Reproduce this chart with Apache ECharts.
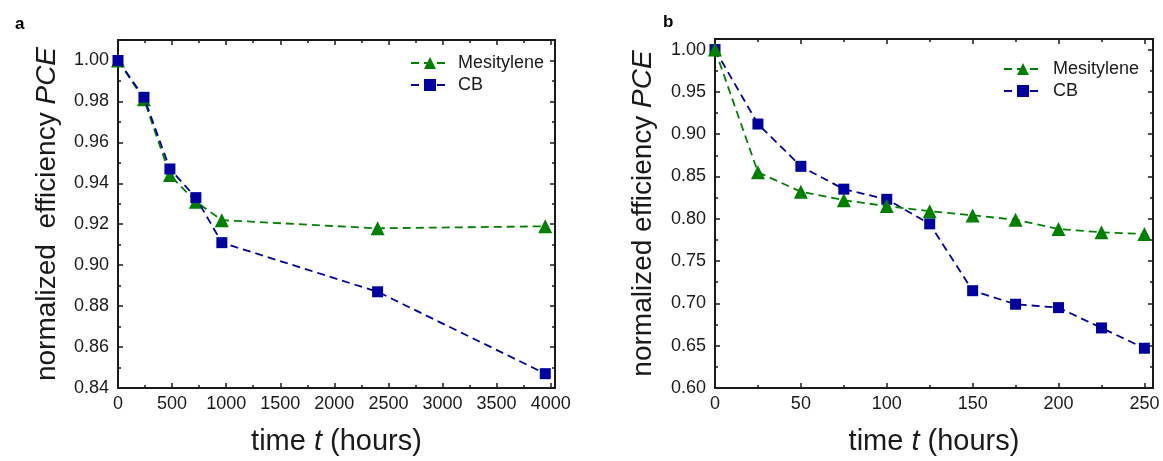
<!DOCTYPE html>
<html><head><meta charset="utf-8">
<script src="https://cdn.jsdelivr.net/npm/echarts@6/dist/echarts.min.js"></script>
<style>html,body{margin:0;padding:0;background:#fff}#c{width:1163px;height:461px}</style>
</head><body><div id="c"></div>
<script>
// Panel a
const hoursA = [0, 240, 480, 720, 960, 2400, 3950];
const mesA = [1.000, 0.981, 0.944, 0.931, 0.922, 0.918, 0.919];
const cbA = [1.000, 0.982, 0.947, 0.933, 0.911, 0.887, 0.847];
// Panel b
const hoursB = [0, 25, 50, 75, 100, 125, 150, 175, 200, 225, 250];
const mesB = [1.000, 0.855, 0.832, 0.822, 0.815, 0.809, 0.804, 0.799, 0.788, 0.784, 0.782];
const cbB = [1.000, 0.912, 0.862, 0.835, 0.823, 0.794, 0.715, 0.699, 0.695, 0.671, 0.647];
const seriesNames = ['Mesitylene', 'CB'];
const panelLabels = ['a', 'b'];
const xTitle = 'time {i|t} (hours)';
const yTitles = ['normalized  efficiency {i|PCE}', 'normalized efficiency {i|PCE}'];

const GREEN = '#008000', BLUE = '#0000a0', INK = '#1a1a1a';
const FONT = 'Liberation Sans, Arial, sans-serif';

function isMult(v, step) { const r = v / step; return Math.abs(r - Math.round(r)) < 1e-6; }

function makeAxes(dim, gridIndex, min, max, major, minor, dec, name, nameGap) {
  const isX = dim === 'x';
  const pos1 = isX ? 'bottom' : 'left', pos2 = isX ? 'top' : 'right';
  const base = { type: 'value', gridIndex, min, max, splitLine: { show: false } };
  const line = { show: true, onZero: false, lineStyle: { color: INK, width: 2 } };
  const noLine = { show: false, onZero: false };
  const majTick = { show: true, inside: true, length: 5, lineStyle: { color: INK, width: 1.5 } };
  const minTick = { show: true, inside: true, length: 3, lineStyle: { color: INK, width: 1.5 } };
  return [
    Object.assign({}, base, {
      position: pos1, interval: major, axisLine: line, axisTick: majTick,
      axisLabel: {
        show: true, interval: 0, fontSize: 18, color: INK, fontFamily: FONT, margin: isX ? 7 : 9,
        formatter: v => isMult(v, major) ? v.toFixed(dec) : ''
      },
      name, nameLocation: 'middle', nameGap, nameRotate: isX ? 0 : 90,
      nameTextStyle: { fontSize: isX ? 29 : 28, color: INK, fontFamily: FONT,
        rich: { i: { fontStyle: 'italic', fontSize: isX ? 29 : 28, color: INK, fontFamily: FONT } } }
    }),
    Object.assign({}, base, { position: pos1, interval: minor, axisLine: noLine, axisTick: minTick, axisLabel: { show: false } }),
    Object.assign({}, base, { position: pos2, interval: major, axisLine: line, axisTick: majTick, axisLabel: { show: false } }),
    Object.assign({}, base, { position: pos2, interval: minor, axisLine: noLine, axisTick: minTick, axisLabel: { show: false } })
  ];
}

function pairs(xs, ys) { return xs.map((x, i) => [x, ys[i]]); }

function lineSeries(name, color, symbol, size, data, xi, yi, z) {
  return {
    name, type: 'line', xAxisIndex: xi, yAxisIndex: yi, data, z,
    symbol, symbolSize: size, showSymbol: true,
    itemStyle: { color },
    lineStyle: { color, width: 1.8, type: [8, 5] },
    animation: false
  };
}

const xAxes = [].concat(
  makeAxes('x', 0, 0, 4040, 500, 250, 0, xTitle, 39),
  makeAxes('x', 1, 0, 255, 50, 25, 0, xTitle, 39)
);
const yAxes = [].concat(
  makeAxes('y', 0, 0.84, 1.01, 0.02, 0.01, 2, yTitles[0], 57),
  makeAxes('y', 1, 0.60, 1.0125, 0.05, 0.025, 2, yTitles[1], 58)
);

const legendText = { fontSize: 18, color: INK, fontFamily: FONT, padding: [0, 0, 0, 4] };
const chart = echarts.init(document.getElementById('c'), null, { renderer: 'canvas' });
chart.setOption({
  backgroundColor: '#fff',
  animation: false,
  textStyle: { fontFamily: FONT },
  title: [
    { text: panelLabels[0], left: 10, top: 11, textStyle: { fontSize: 17, fontWeight: 'bold', color: '#000', fontFamily: FONT } },
    { text: panelLabels[1], left: 658, top: 9, textStyle: { fontSize: 17, fontWeight: 'bold', color: '#000', fontFamily: FONT } }
  ],
  grid: [
    { left: 118, top: 40, width: 437, height: 352 },
    { left: 715, top: 39, width: 438, height: 353 }
  ],
  legend: [
    { data: seriesNames, orient: 'vertical', left: 405, top: 49, itemWidth: 38, itemHeight: 15, itemGap: 4,
      textStyle: legendText },
    { data: seriesNames, orient: 'vertical', left: 998, top: 55, itemWidth: 38, itemHeight: 15, itemGap: 4,
      textStyle: Object.assign({}, legendText, { padding: [0, 0, 0, 6] }) }
  ],
  xAxis: xAxes,
  yAxis: yAxes,
  series: [
    lineSeries(seriesNames[0], GREEN, 'triangle', 14, pairs(hoursA, mesA), 0, 0, 2),
    lineSeries(seriesNames[1], BLUE, 'rect', 11, pairs(hoursA, cbA), 0, 0, 3),
    lineSeries(seriesNames[1], BLUE, 'rect', 11, pairs(hoursB, cbB), 4, 4, 2),
    lineSeries(seriesNames[0], GREEN, 'triangle', 14, pairs(hoursB, mesB), 4, 4, 3)
  ]
});
</script>
</body></html>
